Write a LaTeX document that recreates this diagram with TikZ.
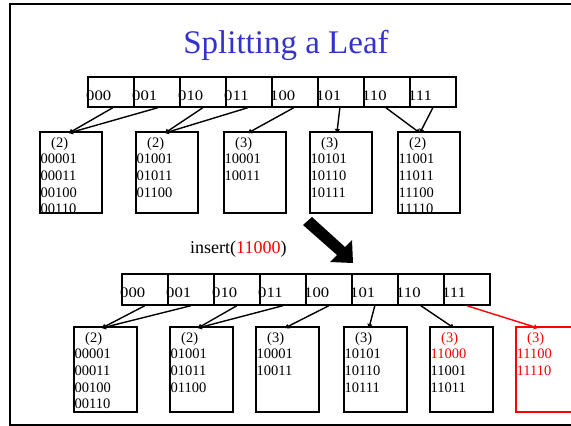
\documentclass[tikz,border=0pt]{standalone}
\usepackage{fontspec}
\setmainfont{Liberation Serif}
\newfontfamily\dirfont[FakeStretch=1.15]{Liberation Serif}
\usetikzlibrary{arrows.meta}
\definecolor{titleblue}{RGB}{51,51,204}
\definecolor{hired}{RGB}{255,0,0}
\newcommand\leaflines[4]{%
  \node[leaftext,text=#2] (#1-lab) at ([xshift=12pt,yshift=-16pt]#1.north west) {#3};
  \foreach \t/\c [count=\i] in {#4}
    \node[leaftext,text=\c] (#1-t\i) at ([xshift=1.5pt,yshift={-16pt-16.7pt*\i}]#1.north west) {\t};
}
\begin{document}
\begin{tikzpicture}[x=1pt,y=-1pt,
  dirbox/.style={draw, line width=1.7pt, minimum width=46pt, minimum height=30pt, inner sep=0, anchor=north west},
  leafbox/.style={draw, line width=1.8pt, minimum width=62pt, minimum height=81pt, inner sep=0, anchor=north west},
  dirtext/.style={anchor=base west, inner sep=0, font=\dirfont\fontsize{14.5}{16}\selectfont},
  leaftext/.style={anchor=base west, inner sep=0, font=\fontsize{14.5}{16}\selectfont},
  link/.style={line width=1.4pt, -{Triangle[length=4pt,width=5pt]}},
]
\useasboundingbox[fill=white] (0,0) rectangle (571,426);
% frame
\draw[line width=2.2pt] (590,4) -- (10,4) -- (10,425) -- (590,425);
% title
\node[font=\fontsize{33}{36}\selectfont, text=titleblue, anchor=base, inner sep=0] (title) at (286,53) {Splitting a Leaf};

% upper directory
\foreach \n [count=\i from 0] in {000,001,010,011,100,101,110,111}{
  \node[dirtext] (ta\n) at ({86+46*\i},100) {\n};
  \node[dirbox] (a\n) at ({87+46*\i},76) {};
}
% upper leaves
\node[leafbox] (U1) at (39,131) {};
\node[leafbox] (U2) at (135,131) {};
\node[leafbox] (U3) at (223,131) {};
\node[leafbox] (U4) at (309,131) {};
\node[leafbox] (U5) at (397,131) {};
\leaflines{U1}{black}{(2)}{00001/black,00011/black,00100/black,00110/black}
\leaflines{U2}{black}{(2)}{01001/black,01011/black,01100/black}
\leaflines{U3}{black}{(3)}{10001/black,10011/black}
\leaflines{U4}{black}{(3)}{10101/black,10110/black,10111/black}
\leaflines{U5}{black}{(2)}{11001/black,11011/black,11100/black,11110/black}

\draw[link] ([xshift=2pt]a000.south) -- ([xshift=-2pt,yshift=-2pt]U1.north);
\draw[link] ([xshift=1pt]a001.south) -- ([xshift=-2pt,yshift=-2pt]U1.north);
\draw[link] (a010.south) -- ([xshift=-2pt,yshift=-2pt]U2.north);
\draw[link] ([xshift=-1pt]a011.south) -- ([xshift=-2pt,yshift=-2pt]U2.north);
\draw[link] ([xshift=-1pt]a100.south) -- ([xshift=-7pt,yshift=-2pt]U3.north);
\draw[link] ([xshift=-1pt]a101.south) -- ([xshift=-4pt,yshift=-2pt]U4.north);
\draw[link] ([xshift=-1pt]a110.south) -- ([xshift=-9pt,yshift=-2pt]U5.north);
\draw[link] (a111.south) -- ([xshift=-9pt,yshift=-2pt]U5.north);

% big arrow
\fill (303,225) -- (312,217) -- (345,247) -- (352,240) -- (353,263) -- (330,262) -- (337,255) -- cycle;
\node[anchor=base west, inner sep=0, font=\fontsize{18}{20}\selectfont] (ins) at (190,253) {insert(\textcolor{hired}{11000})};

% lower directory
\foreach \n [count=\i from 0] in {000,001,010,011,100,101,110,111}{
  \node[dirtext] (tb\n) at ({120+46*\i},297) {\n};
  \node[dirbox, minimum height=31pt] (b\n) at ({121+46*\i},273) {};
}
% lower leaves
\node[leafbox, minimum width=63pt, minimum height=85pt] (L1) at (73,326) {};
\node[leafbox, minimum width=63pt, minimum height=85pt] (L2) at (169,326) {};
\node[leafbox, minimum width=63pt, minimum height=85pt] (L3) at (255,326) {};
\node[leafbox, minimum width=63pt, minimum height=85pt] (L4) at (343,326) {};
\node[leafbox, minimum width=63pt, minimum height=85pt] (L5) at (429,326) {};
\node[leafbox, minimum width=63pt, minimum height=85pt, draw=hired] (L6) at (515,326) {};
\leaflines{L1}{black}{(2)}{00001/black,00011/black,00100/black,00110/black}
\leaflines{L2}{black}{(2)}{01001/black,01011/black,01100/black}
\leaflines{L3}{black}{(3)}{10001/black,10011/black}
\leaflines{L4}{black}{(3)}{10101/black,10110/black,10111/black}
\leaflines{L5}{hired}{(3)}{11000/hired,11001/black,11011/black}
\leaflines{L6}{hired}{(3)}{11100/hired,11110/hired}

\draw[link] (b000.south) -- ([xshift=-3.5pt,yshift=-2pt]L1.north);
\draw[link] (b001.south) -- ([xshift=-3.5pt,yshift=-2pt]L1.north);
\draw[link] (b010.south) -- ([xshift=-3.5pt,yshift=-2pt]L2.north);
\draw[link] (b011.south) -- ([xshift=-3.5pt,yshift=-2pt]L2.north);
\draw[link] (b100.south) -- ([xshift=-2.5pt,yshift=-2pt]L3.north);
\draw[link] (b101.south) -- ([xshift=-6.5pt,yshift=-2pt]L4.north);
\draw[link] (b110.south) -- ([xshift=-7.5pt,yshift=-2pt]L5.north);
\draw[link, hired] (b111.south) -- ([xshift=-9.5pt,yshift=-2pt]L6.north);
\end{tikzpicture}
\end{document}
